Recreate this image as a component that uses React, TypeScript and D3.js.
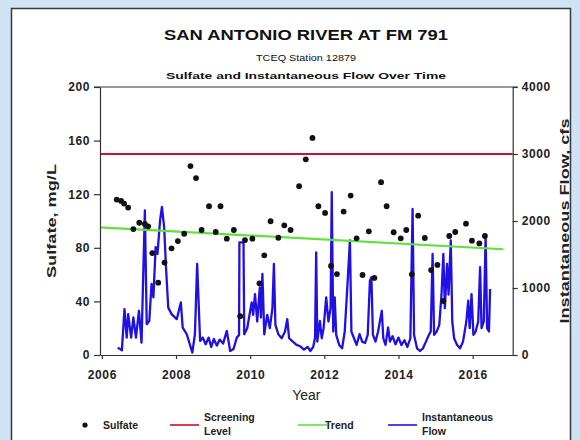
import { useRef, useEffect } from 'react';
import * as d3 from 'd3';

// sulfate grab samples (decimal year, mg/L)
const sulfateDates = [
  2006.4, 2006.52, 2006.6, 2006.71, 2006.85, 2007.01, 2007.16, 2007.25, 2007.36, 2007.52,
  2007.69, 2007.88, 2008.05, 2008.22, 2008.39, 2008.54, 2008.69, 2008.89, 2009.07, 2009.2,
  2009.37, 2009.56, 2009.73, 2009.86, 2010.06, 2010.25, 2010.38, 2010.55, 2010.76, 2010.92,
  2011.09, 2011.32, 2011.5, 2011.68, 2011.84, 2012.02, 2012.18, 2012.34, 2012.52, 2012.71,
  2012.87, 2013.03, 2013.2, 2013.35, 2013.53, 2013.68, 2013.87, 2014.06, 2014.21, 2014.36,
  2014.53, 2014.71, 2014.88, 2015.05, 2015.21, 2015.37, 2015.53, 2015.82, 2015.98, 2016.18,
  2016.33,
];
const sulfateValues = [
  116, 115, 113, 110, 94, 98.7, 97.8, 96, 76, 54,
  69, 79.6, 85, 90.5, 141, 132, 93.3, 111, 91.8, 111,
  86.8, 93.3, 29, 85.8, 86.8, 53.5, 74.4, 99.8, 87.5, 96.8,
  93.3, 126, 146, 162, 111, 106, 66.4, 60.4, 107, 119,
  87.1, 59.7, 92.3, 57.5, 129, 111, 91.6, 87.1, 93.3, 60.2,
  104, 87.3, 63.4, 67.2, 40.3, 88.8, 91.8, 98, 85.3, 83.3,
  88.8,
];

// instantaneous flow (decimal year, cfs)
const flowDates = [
  2006.43, 2006.54, 2006.61, 2006.67, 2006.71, 2006.79, 2006.85, 2006.92, 2007.0, 2007.07,
  2007.16, 2007.21, 2007.28, 2007.34, 2007.39, 2007.45, 2007.5, 2007.57, 2007.62, 2007.68,
  2007.73, 2007.79, 2007.88, 2008.02, 2008.13, 2008.18, 2008.29, 2008.44, 2008.51, 2008.57,
  2008.65, 2008.72, 2008.8, 2008.88, 2008.95, 2009.02, 2009.1, 2009.18, 2009.27, 2009.37,
  2009.46, 2009.55, 2009.64, 2009.7, 2009.71, 2009.82, 2009.84, 2009.92, 2010.04, 2010.08,
  2010.13, 2010.19, 2010.26, 2010.29, 2010.33, 2010.38, 2010.46, 2010.53, 2010.6, 2010.64,
  2010.68, 2010.76, 2010.85, 2010.94, 2011.0, 2011.05, 2011.15, 2011.25, 2011.35, 2011.45,
  2011.55, 2011.62, 2011.7, 2011.75, 2011.78, 2011.81, 2011.88, 2011.93, 2011.98, 2012.05,
  2012.11, 2012.17, 2012.2, 2012.24, 2012.28, 2012.32, 2012.4, 2012.48, 2012.55, 2012.63,
  2012.69, 2012.73, 2012.8, 2012.87, 2012.95, 2013.02, 2013.1, 2013.17, 2013.23, 2013.27,
  2013.31, 2013.38, 2013.45, 2013.55, 2013.59, 2013.65, 2013.72, 2013.77, 2013.84, 2013.92,
  2014.0, 2014.08, 2014.16, 2014.24, 2014.32, 2014.38, 2014.42, 2014.5, 2014.58, 2014.66,
  2014.74, 2014.82, 2014.87, 2014.92, 2014.96, 2015.03, 2015.1, 2015.16, 2015.21, 2015.25,
  2015.31, 2015.35, 2015.41, 2015.45, 2015.5, 2015.58, 2015.66, 2015.74, 2015.83, 2015.88,
  2015.92, 2015.97, 2016.02, 2016.08, 2016.15, 2016.2, 2016.24, 2016.3, 2016.35, 2016.39,
  2016.44, 2016.47,
];
const flowValues = [
  110, 70, 685, 260, 610, 260, 560, 260, 660, 185,
  2157, 460, 510, 1060, 860, 1610, 1510, 2010, 2210, 1910,
  1310, 710, 610, 535, 785, 410, 310, 35, 310, 1360,
  210, 260, 160, 260, 120, 240, 140, 230, 170, 360,
  60, 90, 260, 300, 1680, 1680, 310, 400, 785, 600,
  910, 500, 1010, 560, 1210, 310, 600, 400, 700, 1360,
  450, 310, 250, 350, 535, 250, 200, 150, 130, 80,
  120, 60, 120, 260, 1530, 200, 510, 250, 400, 860,
  500, 700, 2430, 350, 860, 300, 150, 100, 350, 1110,
  1710, 350, 250, 150, 310, 200, 180, 300, 1110, 1160,
  300, 200, 350, 660, 250, 150, 410, 200, 280, 160,
  260, 150, 220, 120, 250, 2180, 300, 100, 60, 100,
  200, 300, 350, 1510, 300, 350, 450, 900, 1510, 700,
  1360, 900, 1710, 500, 250, 150, 100, 200, 500, 810,
  400, 910, 300, 350, 500, 1310, 400, 500, 1780, 400,
  350, 985,
];

const trendDates = [2005.95, 2016.83];
const trendValues = [95.3, 78.9];
const screeningLevel = 150;

const yearTicks = [2006, 2008, 2010, 2012, 2014, 2016];
const sulfateTicks = [0, 40, 80, 120, 160, 200];
const flowTicks = [0, 1000, 2000, 3000, 4000];

const legendLabels = [['Sulfate'], ['Screening', 'Level'], ['Trend'], ['Instantaneous', 'Flow']];
const legendColors = ['#000', '#d0102c', '#5fe23a', '#2010e2'];

const FONT = "Arial, 'Liberation Sans', Helvetica, sans-serif";

export default function App() {
  const svgRef = useRef<SVGSVGElement>(null);
  const width = 580;
  const height = 440;
  const plot = { left: 100, right: 512.7, top: 87, bottom: 355 };

  useEffect(() => {
    if (!svgRef.current) return;
    const svg = d3.select(svgRef.current);
    svg.selectAll('*').remove();

    const x = d3.scaleLinear().domain([2005.95, 2017.08]).range([plot.left, plot.right]);
    const ySulf = d3.scaleLinear().domain([0, 200]).range([plot.bottom, plot.top]);
    const yFlow = d3.scaleLinear().domain([0, 4000]).range([plot.bottom, plot.top]);

    // page background + white panel
    svg.append('rect').attr('width', width).attr('height', height).attr('fill', '#d0e3f4');
    svg.append('rect')
      .attr('x', 11.5).attr('y', 8.5).attr('width', 559).attr('height', 440)
      .attr('fill', '#fff').attr('stroke', '#3a3a3a').attr('stroke-width', 1.5);

    // titles
    const titles = [
      { text: 'SAN ANTONIO RIVER AT FM 791', y: 40, size: 14, weight: 'bold', len: 284 },
      { text: 'TCEQ Station 12879', y: 61, size: 9, weight: 'normal', len: 100 },
      { text: 'Sulfate and Instantaneous Flow Over Time', y: 79, size: 9.5, weight: 'bold', len: 280 },
    ];
    titles.forEach((t) => {
      svg.append('text')
        .attr('x', 306).attr('y', t.y)
        .attr('text-anchor', 'middle')
        .attr('font-family', FONT).attr('font-size', t.size).attr('font-weight', t.weight)
        .attr('fill', '#111')
        .attr('textLength', t.len).attr('lengthAdjust', 'spacingAndGlyphs')
        .text(t.text);
    });

    const g = svg.append('g');

    // flow series
    const flowPts = flowDates.map((d, i) => [d, flowValues[i]] as [number, number]);
    g.append('path')
      .datum(flowPts)
      .attr('d', d3.line<[number, number]>().x((d) => x(d[0])).y((d) => yFlow(d[1])))
      .attr('fill', 'none')
      .attr('stroke', legendColors[3])
      .attr('stroke-width', 2.3)
      .attr('stroke-linejoin', 'round');

    // screening level
    g.append('line')
      .attr('x1', x.range()[0]).attr('x2', x.range()[1])
      .attr('y1', ySulf(screeningLevel)).attr('y2', ySulf(screeningLevel))
      .attr('stroke', legendColors[1]).attr('stroke-width', 2);

    // trend
    g.append('line')
      .attr('x1', x(trendDates[0])).attr('x2', x(trendDates[1]))
      .attr('y1', ySulf(trendValues[0])).attr('y2', ySulf(trendValues[1]))
      .attr('stroke', legendColors[2]).attr('stroke-width', 2.2);

    // sulfate points
    g.selectAll('circle.sulfate')
      .data(sulfateDates.map((d, i) => [d, sulfateValues[i]]))
      .join('circle')
      .attr('class', 'sulfate')
      .attr('cx', (d) => x(d[0]))
      .attr('cy', (d) => ySulf(d[1]))
      .attr('r', 2.9)
      .attr('fill', '#111');

    // axes
    const styleAxis = (sel: d3.Selection<SVGGElement, unknown, null, undefined>) => {
      sel.select('.domain').attr('stroke', '#333').attr('stroke-width', 1.2);
      sel.selectAll('.tick line').attr('stroke', '#333').attr('stroke-width', 1.2);
      sel.selectAll('.tick text')
        .attr('font-family', FONT).attr('font-size', 12).attr('font-weight', 'bold')
        .attr('letter-spacing', 0.6).attr('fill', '#222');
    };

    svg.append('g')
      .attr('transform', `translate(${plot.left},0)`)
      .call(d3.axisLeft(ySulf).tickValues(sulfateTicks).tickSize(6).tickSizeOuter(0).tickPadding(4))
      .call(styleAxis);

    svg.append('g')
      .attr('transform', `translate(${plot.right},0)`)
      .call(d3.axisRight(yFlow).tickValues(flowTicks).tickFormat(d3.format('d')).tickSize(5).tickSizeOuter(0).tickPadding(4))
      .call(styleAxis);

    svg.append('g')
      .attr('transform', `translate(0,${plot.bottom})`)
      .call(d3.axisBottom(x).tickValues(yearTicks).tickFormat(d3.format('d')).tickSize(4).tickSizeOuter(0).tickPadding(11))
      .call(styleAxis);

    // top border of the frame
    svg.append('line')
      .attr('x1', plot.left - 6).attr('x2', plot.right + 5)
      .attr('y1', plot.top).attr('y2', plot.top)
      .attr('stroke', '#333').attr('stroke-width', 1.2);

    // axis titles
    svg.append('text')
      .attr('transform', `translate(56,${(plot.top + plot.bottom) / 2}) rotate(-90)`)
      .attr('text-anchor', 'middle')
      .attr('font-family', FONT).attr('font-size', 13.5).attr('font-weight', 'bold').attr('fill', '#222')
      .attr('textLength', 114).attr('lengthAdjust', 'spacingAndGlyphs')
      .text('Sulfate, mg/L');

    svg.append('text')
      .attr('transform', `translate(569,${(plot.top + plot.bottom) / 2}) rotate(-90)`)
      .attr('text-anchor', 'middle')
      .attr('font-family', FONT).attr('font-size', 12.5).attr('font-weight', 'bold').attr('fill', '#222')
      .attr('textLength', 205).attr('lengthAdjust', 'spacingAndGlyphs')
      .text('Instantaneous Flow, cfs');

    svg.append('text')
      .attr('x', (plot.left + plot.right) / 2).attr('y', 400)
      .attr('text-anchor', 'middle')
      .attr('font-family', FONT).attr('font-size', 14).attr('fill', '#222')
      .text('Year');

    // legend
    const legendX = [85, 170, 298, 388];
    const legendTextX = [103, 204, 325, 422];
    const legendY = 425;
    legendLabels.forEach((lines, i) => {
      if (i === 0) {
        svg.append('circle').attr('cx', legendX[i]).attr('cy', legendY).attr('r', 2.6).attr('fill', '#111');
      } else {
        svg.append('line')
          .attr('x1', legendX[i]).attr('x2', legendX[i] + 29)
          .attr('y1', legendY).attr('y2', legendY)
          .attr('stroke', legendColors[i]).attr('stroke-width', 1.6);
      }
      const txt = svg.append('text')
        .attr('x', legendTextX[i])
        .attr('y', lines.length === 1 ? legendY + 4 : legendY - 4)
        .attr('font-family', FONT).attr('font-size', 10.5).attr('font-weight', 'bold').attr('fill', '#222');
      lines.forEach((l, k) => {
        txt.append('tspan').attr('x', legendTextX[i]).attr('dy', k === 0 ? 0 : 14).text(l);
      });
    });
  }, []);

  return (
    <svg
      ref={svgRef}
      width={width}
      height={height}
      style={{ position: 'absolute', left: 0, top: 0, display: 'block' }}
    />
  );
}
